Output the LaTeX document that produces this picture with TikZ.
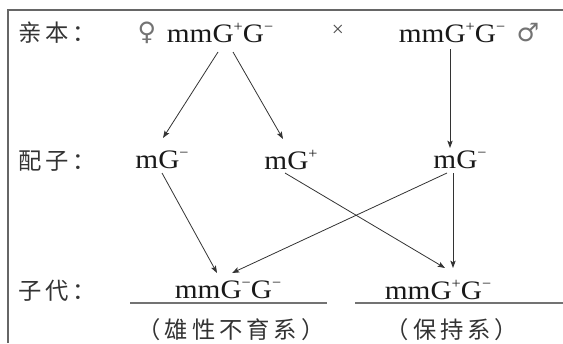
\documentclass[tikz,border=0pt]{standalone}
\usepackage{fontspec}
\setmainfont{Liberation Serif}
\newfontfamily\cjk[LetterSpace=17]{Noto Sans CJK SC}
\newfontfamily\symfont{DejaVu Sans}
\usetikzlibrary{arrows.meta,calc}
\newcommand\myup[1]{\raisebox{0.42em}{\fontsize{11}{11}\selectfont #1}}
\newcommand\gt[1]{\scalebox{1.1}[1]{#1}}
\begin{document}
\begin{tikzpicture}[x=0.75pt,y=-0.75pt,
  txt/.style={inner sep=0pt, font=\fontsize{20}{22}\selectfont, text=black!90},
  cjktxt/.style={inner sep=0pt, font=\fontsize{17.5}{20}\cjk\selectfont, text=black!80},
  symb/.style={inner sep=0pt, font=\fontsize{19}{22}\symfont\selectfont, text=black!55},
  arr/.style={draw=black!80, line width=0.6pt, -{Stealth[length=5.5pt,width=4pt,inset=1.2pt]}},
  rulel/.style={draw=black!55, line width=1.2pt},
  framel/.style={draw=black!60, line width=0.9pt}]
\useasboundingbox (0,0) rectangle (563,343);
\draw[framel] (8,343) -- (8,10) -- (563,10);
% row 1
\node[cjktxt, anchor=west] (l1) at (18,33) {亲本：};
\node[symb] (fem) at (147,33) {♀};
\node[txt] (p1) at (220,33) {\gt{mmG\myup{+}G\myup{−}}};
\node[txt, font=\fontsize{16}{16}\selectfont, text=black!70] (x) at (338,31) {×};
\node[txt] (p2) at (452,33) {\gt{mmG\myup{+}G\myup{−}}};
\node[symb] (mal) at (528,33) {♂};
% row 2
\node[cjktxt, anchor=west] (l2) at (18,161) {配子：};
\node[txt] (g1) at (162,160) {\gt{mG\myup{−}}};
\node[txt] (g2) at (291,160) {\gt{mG\myup{+}}};
\node[txt] (g3) at (460,160) {\gt{mG\myup{−}}};
% row 3
\node[cjktxt, anchor=west] (l3) at (18,291) {子代：};
\node[txt] (o1) at (228,290) {\gt{mmG\myup{−}G\myup{−}}};
\node[txt] (o2) at (438,290) {\gt{mmG\myup{+}G\myup{−}}};
\coordinate (r1a) at (130,303);
\coordinate (r1b) at (327,303);
\coordinate (r2a) at (355,303);
\coordinate (r2b) at (563,303);
\draw[rulel] (r1a) -- (r1b);
\draw[rulel] (r2a) -- (r2b);
\node[cjktxt] (n1) at (231,330) {（雄性不育系）};
\node[cjktxt] (n2) at (452,330) {（保持系）};
% arrows
\draw[arr] ($(p1)+(-2,19)$) -- ($(g1)+(1,-22)$);
\draw[arr] ($(p1)+(13,19)$) -- ($(g2)+(-8,-21)$);
\draw[arr] ($(p2)+(-2,16)$) -- ($(g3)+(-10,-12)$);
\draw[arr] ($(g1)+(0,13)$) -- ($(o1)+(-11,-17)$);
\draw[arr] ($(g2)+(-6,13)$) -- ($(o2)+(7,-22)$);
\draw[arr] ($(g3)+(-13,13)$) -- ($(o1)+(4,-17)$);
\draw[arr] ($(g3)+(-7,13)$) -- ($(o2)+(15,-22)$);
\end{tikzpicture}
\end{document}
